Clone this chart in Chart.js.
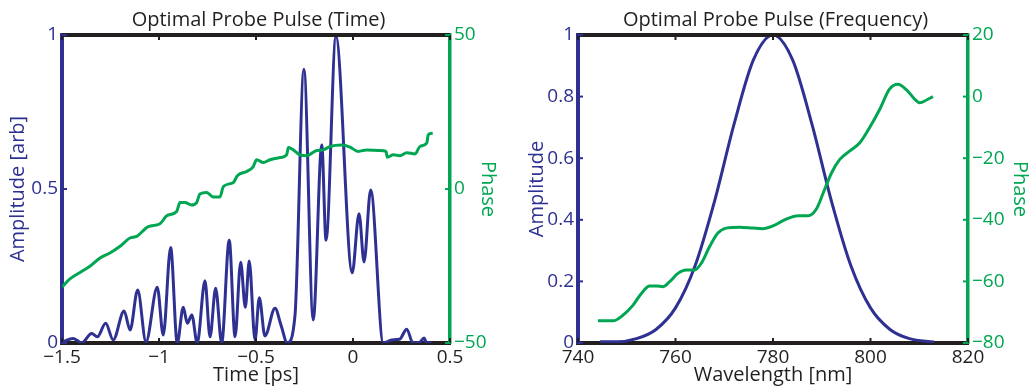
<!DOCTYPE html>
<html>
<head>
<meta charset="utf-8">
<title>Optimal Probe Pulse</title>
<script src="https://cdn.jsdelivr.net/npm/chart.js@4.4.0/dist/chart.umd.min.js"></script>
<style>
    body { margin: 0; background: #ffffff; }
    .charts { position: relative; width: 1034px; height: 390px; }
    .charts canvas { position: absolute; top: 0; }
</style>
</head>
<body>
<div class="charts">
    <canvas id="time_Chart" width="517" height="390" style="left:0px"></canvas>
    <canvas id="freq_Chart" width="517" height="390" style="left:517px"></canvas>
</div>
<script>
// time domain: amplitude envelope
const timePs = [-1.5, -1.442, -1.398, -1.347, -1.318, -1.275, -1.236, -1.18, -1.149, -1.11,
    -1.067, -1.009, -0.978, -0.94, -0.906, -0.875, -0.854, -0.831, -0.803, -0.763,
    -0.737, -0.708, -0.677, -0.638, -0.608, -0.579, -0.555, -0.535, -0.505, -0.483,
    -0.454, -0.402, -0.371, -0.339, -0.299, -0.253, -0.205, -0.161, -0.139, -0.088,
    -0.004, 0.031, 0.057, 0.091, 0.156, 0.2, 0.24, 0.277, 0.309, 0.345, 0.366, 0.38, 0.406];
const timeAmplitude = [0.003, 0.015, 0, 0.031, 0.02, 0.064, 0.01, 0.104, 0.042, 0.172,
    0.004, 0.181, 0.026, 0.31, 0, 0.116, 0.064, 0.091, 0, 0.202,
    0.02, 0.178, 0, 0.334, 0.02, 0.262, 0.116, 0.266, 0.01, 0.147,
    0.023, 0.113, 0.058, 0, 0.09, 0.889, 0.075, 0.643, 0.334, 0.995,
    0.228, 0.42, 0.263, 0.497, 0, 0.01, 0.012, 0.045, 0, 0.003, 0.016, 0, 0];

// time domain: phase
const phaseTimePs = [-1.5, -1.459, -1.399, -1.356, -1.304, -1.253, -1.201, -1.149, -1.115, -1.055,
    -0.995, -0.96, -0.909, -0.892, -0.866, -0.832, -0.806, -0.789, -0.754, -0.72,
    -0.686, -0.668, -0.617, -0.596, -0.548, -0.514, -0.497, -0.462, -0.428, -0.376,
    -0.342, -0.333, -0.308, -0.273, -0.239, -0.187, -0.153, -0.119, -0.058, -0.015,
    0.027, 0.07, 0.139, 0.17, 0.177, 0.208, 0.242, 0.277, 0.32, 0.345, 0.38, 0.388, 0.411];
const timePhase = [-31.8, -29.2, -26.8, -25.1, -22.4, -20.8, -18.6, -15.9, -15.4, -12.2,
    -11.3, -8.7, -7.3, -4.4, -4.4, -5.2, -4.4, -1.6, -1.1, -2.6,
    -2.6, 0.8, 2.1, 4.3, 5.7, 7.3, 9.5, 8.6, 9.5, 10.2,
    11.1, 13.5, 12.7, 11.1, 10.8, 12.5, 12.7, 13.8, 14.3, 13.6,
    12.2, 12.7, 12.5, 12.2, 10.3, 11.1, 10.8, 11.8, 11.4, 13.8, 14.9, 17.6, 18.1];

// frequency domain: spectral amplitude
const wavelengthNm = [744.5, 748, 752, 756, 760, 764, 768, 772, 776, 780,
    784, 788, 792, 796, 800, 804, 808, 813];
const specAmplitude = [0.004, 0.004, 0.014, 0.044, 0.114, 0.25, 0.46, 0.71, 0.92, 1.0,
    0.92, 0.71, 0.46, 0.25, 0.114, 0.044, 0.014, 0.003];

// frequency domain: spectral phase
const phaseWavelengthNm = [744.1, 747.2, 749.2, 751.3, 753.0, 754.7, 756.1, 757.4, 758.8, 760.5,
    762.2, 763.9, 765.3, 767.0, 768.7, 770.4, 773.2, 775.9, 777.9, 780.0,
    782.7, 785.1, 787.2, 788.9, 790.3, 792.0, 793.7, 795.7, 797.8, 799.8,
    801.9, 803.9, 805.6, 807.4, 809.1, 810.1, 811.5, 812.8];
const specPhase = [-72.8, -72.8, -71.0, -67.7, -63.9, -61.5, -61.5, -61.7, -60.1, -57.4,
    -56.3, -56.3, -54.1, -48.7, -44.3, -42.7, -42.4, -42.7, -42.9, -42.0,
    -39.8, -38.7, -38.7, -36.5, -31.3, -24.8, -20.4, -17.7, -15.0, -10.1,
    -4.1, 2.4, 4.0, 2.2, -0.9, -2.0, -1.1, 0.0];

// tick labels
const timeTicks = [-1.5, -1, -0.5, 0, 0.5];
const timeAmpTicks = [0, 0.5, 1];
const timePhaseTicks = [-50, 0, 50];
const wavelengthTicks = [740, 760, 780, 800, 820];
const specAmpTicks = [0, 0.2, 0.4, 0.6, 0.8, 1];
const specPhaseTicks = [-80, -60, -40, -20, 0, 20];

const BLUE = '#2e3192';
const GREEN = '#00a651';
const BLACK = '#231f20';
const FONT = '"Open Sans", Lato, sans-serif';

function points(xs, ys) {
    return xs.map(function(x, i) { return { x: x, y: ys[i] }; });
}

function withMinus(value) {
    return String(value).replace('-', '\u2212');
}

function fixedSize(px) {
    return function(scale) {
        if (scale.isHorizontal()) scale.height = px;
        else scale.width = px;
    };
}

function useTicks(list) {
    return function(scale) {
        scale.ticks = list.map(function(v) { return { value: v }; });
    };
}

// top frame line plus the short inward tick marks on every side
const frameTicks = {
    id: 'frameTicks',
    afterDraw: function(chart) {
        const ctx = chart.ctx;
        const area = chart.chartArea;
        const x = chart.scales.x, amp = chart.scales.amp, phase = chart.scales.phase;
        ctx.save();
        ctx.strokeStyle = BLACK;
        ctx.lineWidth = 4;
        ctx.beginPath();
        ctx.moveTo(area.left, area.top);
        ctx.lineTo(area.right, area.top);
        ctx.stroke();

        ctx.lineWidth = 2;
        x.ticks.forEach(function(t) {
            const px = x.getPixelForValue(t.value);
            ctx.beginPath();
            ctx.moveTo(px, area.top); ctx.lineTo(px, area.top + 5);
            ctx.moveTo(px, area.bottom); ctx.lineTo(px, area.bottom - 5);
            ctx.stroke();
        });
        ctx.strokeStyle = BLUE;
        amp.ticks.forEach(function(t) {
            const py = amp.getPixelForValue(t.value);
            ctx.beginPath(); ctx.moveTo(area.left, py); ctx.lineTo(area.left + 5, py); ctx.stroke();
        });
        ctx.strokeStyle = GREEN;
        phase.ticks.forEach(function(t) {
            const py = phase.getPixelForValue(t.value);
            ctx.beginPath(); ctx.moveTo(area.right, py); ctx.lineTo(area.right - 5, py); ctx.stroke();
        });
        ctx.restore();
    }
};

function makePulseChart(canvasId, cfg) {
    const ctx = document.getElementById(canvasId).getContext('2d');
    return new Chart(ctx, {
        type: 'line',
        data: {
            datasets: [{
                label: 'Phase',
                data: points(cfg.phaseX, cfg.phaseY),
                yAxisID: 'phase',
                borderColor: GREEN,
                borderWidth: 3,
                pointRadius: 0,
                cubicInterpolationMode: 'monotone'
            }, {
                label: 'Amplitude',
                data: points(cfg.ampX, cfg.ampY),
                yAxisID: 'amp',
                borderColor: BLUE,
                borderWidth: 3,
                pointRadius: 0,
                cubicInterpolationMode: 'monotone'
            }]
        },
        options: {
            responsive: false,
            animation: false,
            layout: { padding: 0 },
            plugins: {
                legend: { display: false },
                tooltip: { enabled: false },
                title: {
                    display: true,
                    text: cfg.title,
                    color: BLACK,
                    font: { family: FONT, size: 20, weight: 'normal' },
                    padding: { top: 8, bottom: 3 }
                }
            },
            scales: {
                x: {
                    type: 'linear',
                    min: cfg.xTicks[0],
                    max: cfg.xTicks[cfg.xTicks.length - 1],
                    afterFit: fixedSize(47),
                    afterBuildTicks: useTicks(cfg.xTicks),
                    grid: { display: false, drawTicks: false },
                    border: { display: true, color: BLACK, width: 4 },
                    ticks: {
                        color: BLACK,
                        padding: 3,
                        maxRotation: 0,
                        font: { family: FONT, size: 19 },
                        callback: withMinus
                    },
                    title: {
                        display: true,
                        text: cfg.xTitle,
                        color: BLACK,
                        font: { family: FONT, size: 20 },
                        padding: { top: 0, bottom: 3 }
                    }
                },
                amp: {
                    type: 'linear',
                    position: 'left',
                    min: 0,
                    max: 1,
                    afterFit: fixedSize(cfg.leftWidth),
                    afterBuildTicks: useTicks(cfg.ampTicks),
                    grid: { display: false, drawTicks: false },
                    border: { display: true, color: BLUE, width: 4 },
                    ticks: {
                        color: BLUE,
                        padding: 4,
                        font: { family: FONT, size: 19 },
                        callback: withMinus
                    },
                    title: {
                        display: true,
                        text: cfg.ampTitle,
                        color: BLUE,
                        font: { family: FONT, size: 20 },
                        padding: { top: cfg.ampTitlePad, bottom: 0 }
                    }
                },
                phase: {
                    type: 'linear',
                    position: 'right',
                    min: cfg.phaseTicks[0],
                    max: cfg.phaseTicks[cfg.phaseTicks.length - 1],
                    afterFit: fixedSize(cfg.rightWidth),
                    afterBuildTicks: useTicks(cfg.phaseTicks),
                    grid: { display: false, drawTicks: false },
                    border: { display: true, color: GREEN, width: 3.5 },
                    ticks: {
                        color: GREEN,
                        padding: 4,
                        font: { family: FONT, size: 19 },
                        callback: withMinus
                    },
                    title: {
                        display: true,
                        text: 'Phase',
                        color: GREEN,
                        font: { family: FONT, size: 20 },
                        padding: { top: cfg.phaseTitlePad, bottom: 0 }
                    }
                }
            }
        },
        plugins: [frameTicks]
    });
}

document.addEventListener("DOMContentLoaded", function() {

    makePulseChart('time_Chart', {
        title: 'Optimal Probe Pulse (Time)',
        xTitle: 'Time [ps]',
        ampTitle: 'Amplitude [arb]',
        ampX: timePs, ampY: timeAmplitude,
        phaseX: phaseTimePs, phaseY: timePhase,
        xTicks: timeTicks, ampTicks: timeAmpTicks, phaseTicks: timePhaseTicks,
        leftWidth: 62, rightWidth: 67,
        ampTitlePad: 6, phaseTitlePad: 17
    });

    makePulseChart('freq_Chart', {
        title: 'Optimal Probe Pulse (Frequency)',
        xTitle: 'Wavelength [nm]',
        ampTitle: 'Amplitude',
        ampX: wavelengthNm, ampY: specAmplitude,
        phaseX: phaseWavelengthNm, phaseY: specPhase,
        xTicks: wavelengthTicks, ampTicks: specAmpTicks, phaseTicks: specPhaseTicks,
        leftWidth: 61, rightWidth: 66,
        ampTitlePad: 8, phaseTitlePad: 2
    });

});
</script>
</body>
</html>
